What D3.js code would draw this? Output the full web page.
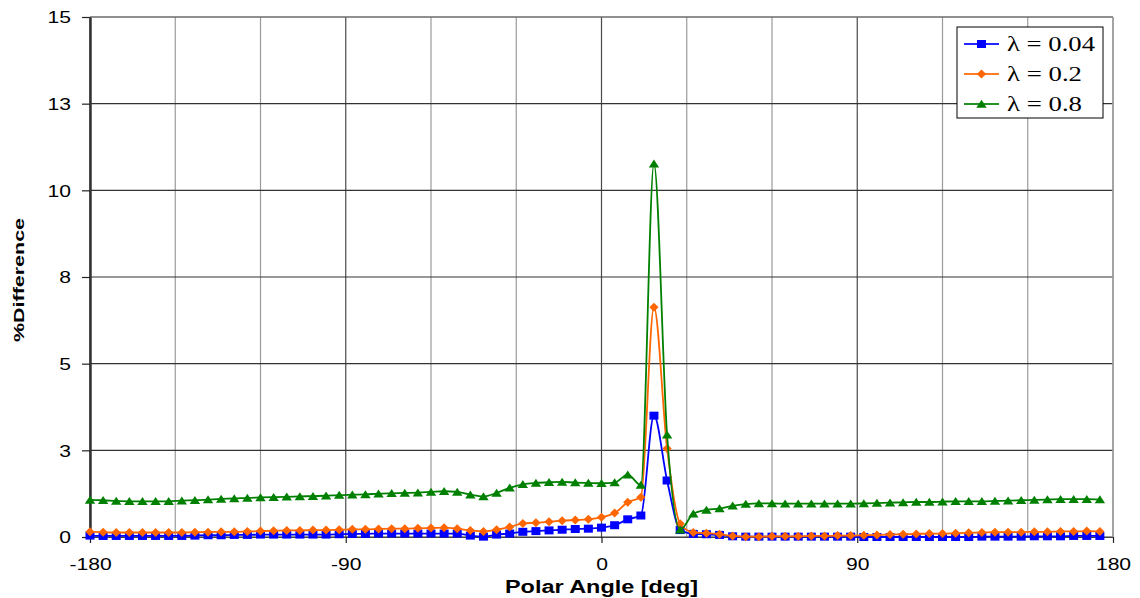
<!DOCTYPE html>
<html>
<head>
<meta charset="utf-8">
<script src="https://cdn.jsdelivr.net/npm/d3@7"></script>
<style>
  html, body { margin: 0; padding: 0; background: #fff; }
  svg { display: block; }
  text { font-family: "Liberation Sans", Arial, sans-serif; fill: #000; }
</style>
</head>
<body>
<svg id="chart" width="1140" height="598"></svg>
<script>
// Polar angle samples (deg)
const angles = [
  -180, -175.38, -170.77, -166.15, -161.54, -156.92, -152.31, -147.69, -143.08, -138.46,
  -133.85, -129.23, -124.62, -120, -115.38, -110.77, -106.15, -101.54, -96.92, -92.31,
  -87.69, -83.08, -78.46, -73.85, -69.23, -64.62, -60, -55.38, -50.77, -46.15,
  -41.54, -36.92, -32.31, -27.69, -23.08, -18.46, -13.85, -9.23, -4.62, 0,
  4.62, 9.23, 13.85, 18.46, 23.08, 27.69, 32.31, 36.92, 41.54, 46.15,
  50.77, 55.38, 60, 64.62, 69.23, 73.85, 78.46, 83.08, 87.69, 92.31,
  96.92, 101.54, 106.15, 110.77, 115.38, 120, 124.62, 129.23, 133.85, 138.46,
  143.08, 147.69, 152.31, 156.92, 161.54, 166.15, 170.77, 175.38
];

// % difference, lambda = 0.04
const diffLambda004 = [
  0.04, 0.03, 0.03, 0.03, 0.03, 0.03, 0.03, 0.03, 0.04, 0.05,
  0.05, 0.06, 0.06, 0.07, 0.07, 0.07, 0.07, 0.07, 0.07, 0.08,
  0.09, 0.09, 0.10, 0.10, 0.10, 0.10, 0.10, 0.10, 0.10, 0.04,
  0.01, 0.07, 0.10, 0.15, 0.17, 0.19, 0.21, 0.23, 0.24, 0.27,
  0.34, 0.51, 0.62, 3.50, 1.63, 0.20, 0.09, 0.08, 0.06, 0.02,
  0.01, 0.01, 0.01, 0.01, 0.01, 0.01, 0.01, 0.01, 0.01, 0.00,
  0.00, 0.00, 0.00, 0.00, 0.00, 0.00, 0.00, 0.00, 0.01, 0.01,
  0.01, 0.01, 0.02, 0.02, 0.02, 0.03, 0.03, 0.03
];

// % difference, lambda = 0.2
const diffLambda02 = [
  0.15, 0.14, 0.13, 0.13, 0.13, 0.13, 0.13, 0.13, 0.14, 0.14,
  0.15, 0.15, 0.16, 0.17, 0.18, 0.19, 0.19, 0.20, 0.20, 0.21,
  0.22, 0.22, 0.23, 0.24, 0.24, 0.25, 0.26, 0.27, 0.24, 0.19,
  0.16, 0.21, 0.29, 0.39, 0.41, 0.44, 0.47, 0.49, 0.51, 0.57,
  0.69, 1.00, 1.15, 6.63, 2.55, 0.38, 0.13, 0.11, 0.08, 0.03,
  0.01, 0.01, 0.02, 0.02, 0.02, 0.03, 0.03, 0.04, 0.04, 0.05,
  0.06, 0.07, 0.08, 0.09, 0.10, 0.10, 0.11, 0.12, 0.13, 0.14,
  0.14, 0.14, 0.15, 0.15, 0.16, 0.16, 0.17, 0.16
];

// % difference, lambda = 0.8
const diffLambda08 = [
  1.07, 1.06, 1.04, 1.03, 1.03, 1.03, 1.03, 1.05, 1.06, 1.08,
  1.10, 1.11, 1.13, 1.14, 1.15, 1.16, 1.17, 1.18, 1.19, 1.21,
  1.22, 1.23, 1.25, 1.26, 1.27, 1.28, 1.30, 1.32, 1.30, 1.22,
  1.17, 1.27, 1.42, 1.52, 1.56, 1.58, 1.59, 1.57, 1.56, 1.55,
  1.57, 1.80, 1.50, 10.77, 2.95, 0.21, 0.67, 0.78, 0.82, 0.90,
  0.95, 0.97, 0.97, 0.96, 0.96, 0.96, 0.96, 0.96, 0.96, 0.97,
  0.98, 0.99, 1.00, 1.01, 1.01, 1.02, 1.03, 1.03, 1.03, 1.04,
  1.05, 1.06, 1.07, 1.08, 1.09, 1.09, 1.09, 1.08
];

const seriesNames = ["\u03bb = 0.04", "\u03bb = 0.2", "\u03bb = 0.8"];
const seriesColors = ["#0000ff", "#ff6600", "#008000"];
const seriesMarkers = ["square", "diamond", "triangle"];

const xTickValues = [-180, -90, 0, 90, 180];
const xTickLabels = ["-180", "-90", "0", "90", "180"];
const xGridValues = [-180, -150, -120, -90, -60, -30, 0, 30, 60, 90, 120, 150, 180];
const yTickValues = [0, 2.5, 5, 7.5, 10, 12.5, 15];
const yTickLabels = ["0", "3", "5", "8", "10", "13", "15"];

const margin = { left: 90, top: 17, right: 27, bottom: 61 };
const W = 1140, H = 598;
const iw = W - margin.left - margin.right;
const ih = H - margin.top - margin.bottom;
const TEXT_SX = 1.32;
const legendTextWidths = [88, 75, 75];

const svg = d3.select("#chart");
svg.append("rect").attr("width", W).attr("height", H).attr("fill", "#fff");
const g = svg.append("g").attr("transform", `translate(${margin.left},${margin.top})`);

const x = d3.scaleLinear().domain([-180, 180]).range([0, iw]);
const y = d3.scaleLinear().domain([0, 15]).range([ih, 0]);

// widen text horizontally about its anchor point
function stretch(sel, sx) {
  sel.each(function () {
    const t = d3.select(this);
    const tx = +t.attr("x") || 0;
    t.attr("transform", `translate(${tx},0) scale(${sx},1) translate(${-tx},0)`);
  });
}

// vertical grid
g.append("g").selectAll("line").data(xGridValues).join("line")
  .attr("x1", d => x(d)).attr("x2", d => x(d))
  .attr("y1", 0).attr("y2", ih)
  .attr("stroke", d => (d % 90 === 0 ? "#4a4a4a" : "#9a9a9a"))
  .attr("stroke-width", 1.2);

// horizontal grid
g.append("g").selectAll("line").data(yTickValues).join("line")
  .attr("x1", 0).attr("x2", iw)
  .attr("y1", d => y(d)).attr("y2", d => y(d))
  .attr("stroke", "#333").attr("stroke-width", 1.2);

// plot frame
g.append("line").attr("x1", 0).attr("x2", iw).attr("y1", 0).attr("y2", 0)
  .attr("stroke", "#888").attr("stroke-width", 1.2);
g.append("line").attr("x1", iw).attr("x2", iw).attr("y1", 0).attr("y2", ih)
  .attr("stroke", "#aaa").attr("stroke-width", 1.5);

// y axis
const yAxis = g.append("g")
  .call(d3.axisLeft(y).tickValues(yTickValues).tickSize(8).tickSizeOuter(0)
    .tickFormat((d, i) => yTickLabels[i]));
yAxis.select(".domain").attr("stroke", "#333").attr("stroke-width", 2.5);
yAxis.selectAll(".tick line").attr("stroke", "#222").attr("stroke-width", 1.2);
yAxis.selectAll(".tick text")
  .attr("x", -19).attr("dy", "0.36em")
  .style("font-size", "16px").style("font-family", "Liberation Sans, Arial, sans-serif");
stretch(yAxis.selectAll(".tick text"), TEXT_SX);

// x axis
const xAxis = g.append("g").attr("transform", `translate(0,${ih})`)
  .call(d3.axisBottom(x).tickValues(xTickValues).tickSize(6).tickSizeOuter(0)
    .tickFormat((d, i) => xTickLabels[i]));
xAxis.select(".domain").attr("stroke", "#444").attr("stroke-width", 1.2);
xAxis.selectAll(".tick line").attr("stroke", "#222").attr("stroke-width", 1.2);
xAxis.selectAll(".tick text")
  .attr("y", 33).attr("dy", 0)
  .style("font-size", "16px").style("font-family", "Liberation Sans, Arial, sans-serif");
stretch(xAxis.selectAll(".tick text"), TEXT_SX);

// axis titles
svg.append("text")
  .attr("x", margin.left + x(0)).attr("y", 593)
  .attr("text-anchor", "middle")
  .attr("textLength", 193).attr("lengthAdjust", "spacingAndGlyphs")
  .style("font-size", "18px").style("font-weight", "bold")
  .text("Polar Angle [deg]");

svg.append("text")
  .attr("transform", "translate(24,280) rotate(-90)")
  .attr("text-anchor", "middle")
  .attr("textLength", 124).attr("lengthAdjust", "spacingAndGlyphs")
  .style("font-size", "15px").style("font-weight", "bold")
  .text("%Difference");

// marker shapes
function markerPath(kind) {
  if (kind === "square") return "M-4.5,-4H4.5V4H-4.5Z";
  if (kind === "diamond") return "M0,-4.5L4.6,0L0,4.5L-4.6,0Z";
  return "M0,-4.2L5.2,3.8L-5.2,3.8Z";
}

const seriesData = [diffLambda004, diffLambda02, diffLambda08];

// smoothed line through the samples
const line = d3.line().curve(d3.curveMonotoneX).x(d => x(d[0])).y(d => y(d[1]));

seriesData.forEach((vals, s) => {
  const pts = angles.map((a, i) => [a, vals[i]]);
  const sg = g.append("g");
  sg.append("path").datum(pts)
    .attr("d", line)
    .attr("fill", "none")
    .attr("stroke", seriesColors[s])
    .attr("stroke-width", 1.8)
    .attr("stroke-linejoin", "round");
  sg.selectAll("path.mk").data(pts).join("path")
    .attr("class", "mk")
    .attr("transform", d => `translate(${x(d[0])},${y(d[1])})`)
    .attr("d", markerPath(seriesMarkers[s]))
    .attr("fill", seriesColors[s]);
});

// legend
const lg = svg.append("g");
lg.append("rect")
  .attr("x", 957).attr("y", 27).attr("width", 146).attr("height", 91)
  .attr("fill", "#fff").attr("stroke", "#000").attr("stroke-width", 1);

const rowY = [44, 74, 104];
seriesNames.forEach((name, s) => {
  const ry = rowY[s];
  lg.append("line")
    .attr("x1", 964).attr("x2", 999).attr("y1", ry).attr("y2", ry)
    .attr("stroke", seriesColors[s]).attr("stroke-width", 1.8).attr("opacity", 0.85);
  lg.append("path")
    .attr("transform", `translate(981.5,${ry})`)
    .attr("d", markerPath(seriesMarkers[s]))
    .attr("fill", seriesColors[s]);
  lg.append("text")
    .attr("x", 1007).attr("y", ry + 7)
    .attr("textLength", legendTextWidths[s]).attr("lengthAdjust", "spacingAndGlyphs")
    .style("font-family", "Liberation Serif, 'DejaVu Serif', serif")
    .style("font-size", "20px")
    .text(name);
});
</script>
</body>
</html>
